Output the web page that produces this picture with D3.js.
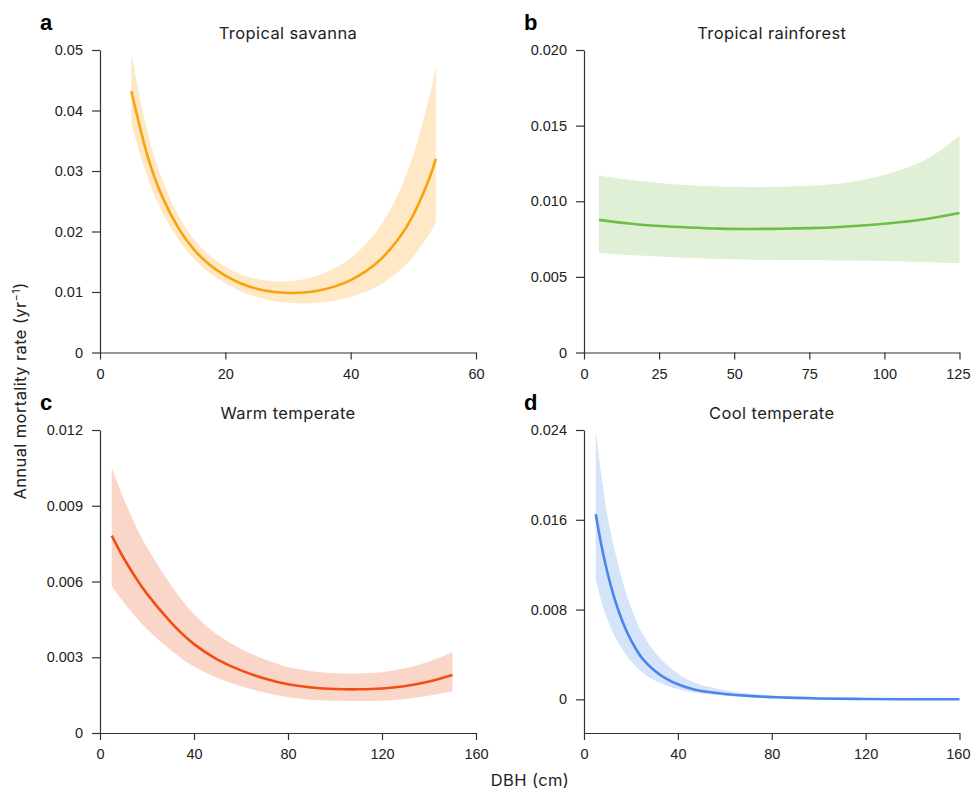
<!DOCTYPE html>
<html>
<head>
<meta charset="utf-8">
<script src="https://cdn.jsdelivr.net/npm/d3@7"></script>
<style>
  html, body { margin: 0; padding: 0; background: #fff; }
  svg { display: block; font-family: "Inter", "Noto Sans", sans-serif; }
  .tick text { font-size: 14.5px; fill: #222; }
  .domain, .tick line { stroke: #333; stroke-width: 1.2; }
</style>
</head>
<body>
<svg id="chart" width="971" height="789"></svg>
<script>
// ---- Tropical savanna ----
const savannaDbh   = [5, 7.5, 10, 12.5, 15, 17.5, 20, 22.5, 25, 27.5, 30, 32.5, 35, 37.5, 40, 42.5, 45, 47.5, 50, 52.5, 53.6];
const savannaMean  = [0.0432, 0.0328, 0.0256, 0.0206, 0.0170, 0.0145, 0.0127, 0.0114, 0.01055, 0.01005, 0.00984, 0.00991, 0.01026, 0.01093, 0.01197, 0.01348, 0.01561, 0.01859, 0.02276, 0.02864, 0.0320];
const savannaUpper = [0.04935, 0.03688, 0.02843, 0.02270, 0.01870, 0.01602, 0.01417, 0.01289, 0.01214, 0.01178, 0.01177, 0.01211, 0.01281, 0.01395, 0.01563, 0.01801, 0.02135, 0.02603, 0.03263, 0.04204, 0.04747];
const savannaLower = [0.03782, 0.02917, 0.02305, 0.01869, 0.01545, 0.01313, 0.01139, 0.01008, 0.00917, 0.00857, 0.00823, 0.00811, 0.00822, 0.00856, 0.00917, 0.01009, 0.01141, 0.01328, 0.01588, 0.01951, 0.02157];

// ---- Tropical rainforest ----
const rainDbh   = [5, 15, 25, 35, 45, 55, 65, 75, 85, 95, 105, 115, 125];
const rainMean  = [0.00877, 0.00853, 0.00836, 0.00826, 0.00819, 0.00817, 0.00818, 0.00822, 0.00830, 0.00843, 0.00861, 0.00886, 0.00922];
const rainUpper = [0.01170, 0.01142, 0.01120, 0.01105, 0.01098, 0.01095, 0.01096, 0.01102, 0.01118, 0.01150, 0.01205, 0.01290, 0.01432];
const rainLower = [0.00658, 0.00645, 0.00634, 0.00625, 0.00618, 0.00614, 0.00612, 0.00611, 0.00609, 0.00606, 0.00601, 0.00596, 0.00590];

// ---- Warm temperate ----
const warmDbh   = [5, 10, 15, 20, 30, 40, 50, 60, 70, 80, 90, 100, 110, 120, 130, 140, 150];
const warmMean  = [0.00782, 0.00694, 0.00618, 0.00551, 0.00440, 0.00352, 0.00291, 0.00248, 0.00216, 0.00193, 0.00180, 0.00174, 0.00173, 0.00176, 0.00186, 0.00204, 0.00230];
const warmUpper = [0.01050, 0.00930, 0.00826, 0.00736, 0.00589, 0.00470, 0.00389, 0.00333, 0.00292, 0.00261, 0.00245, 0.00237, 0.00236, 0.00241, 0.00256, 0.00283, 0.00320];
const warmLower = [0.00582, 0.00518, 0.00462, 0.00412, 0.00329, 0.00263, 0.00218, 0.00185, 0.00160, 0.00142, 0.00132, 0.00128, 0.00127, 0.00128, 0.00135, 0.00148, 0.00165];

// ---- Cool temperate ----
const coolDbh   = [5, 7.5, 10, 12.5, 15, 17.5, 20, 22.5, 25, 30, 35, 40, 45, 50, 60, 70, 80, 90, 100, 120, 140, 160];
const coolMean  = [0.0165, 0.01364, 0.01128, 0.00933, 0.00772, 0.00638, 0.00528, 0.00436, 0.00361, 0.00257, 0.00185, 0.00134, 0.00098, 0.00075, 0.00048, 0.00031, 0.00020, 0.00013, 0.00008, 0.00003, 0.00001, 0.000004];
const coolUpper = [0.0240, 0.01978, 0.01636, 0.01381, 0.01166, 0.00976, 0.00818, 0.00689, 0.00581, 0.00427, 0.00313, 0.00228, 0.00167, 0.00128, 0.00082, 0.00053, 0.00034, 0.00022, 0.00014, 0.00005, 0.00002, 0.000007];
const coolLower = [0.0107, 0.00866, 0.00711, 0.00588, 0.00490, 0.00408, 0.00341, 0.00283, 0.00236, 0.00170, 0.00124, 0.00091, 0.00067, 0.00051, 0.00033, 0.00021, 0.00014, 0.00009, 0.00005, 0.00002, 0.00001, 0.000003];

// ---- Axis ticks and labels ----
const savannaXTicks = [0, 20, 40, 60];
const savannaYTicks = [0, 0.01, 0.02, 0.03, 0.04, 0.05];
const savannaYLabels = ["0", "0.01", "0.02", "0.03", "0.04", "0.05"];
const rainXTicks = [0, 25, 50, 75, 100, 125];
const rainYTicks = [0, 0.005, 0.010, 0.015, 0.020];
const rainYLabels = ["0", "0.005", "0.010", "0.015", "0.020"];
const warmXTicks = [0, 40, 80, 120, 160];
const warmYTicks = [0, 0.003, 0.006, 0.009, 0.012];
const warmYLabels = ["0", "0.003", "0.006", "0.009", "0.012"];
const coolXTicks = [0, 40, 80, 120, 160];
const coolYTicks = [0, 0.008, 0.016, 0.024];
const coolYLabels = ["0", "0.008", "0.016", "0.024"];

const panels = [
  { letter: "a", title: "Tropical savanna", dbh: savannaDbh, mean: savannaMean, lo: savannaLower, hi: savannaUpper,
    xDomain: [0, 60], yDomain: [0, 0.05], xTicks: savannaXTicks, yTicks: savannaYTicks, yLabels: savannaYLabels,
    left: 100, right: 476, top: 50, bottom: 352.5, line: "#F9A20E", band: "#FEE8C6" },
  { letter: "b", title: "Tropical rainforest", dbh: rainDbh, mean: rainMean, lo: rainLower, hi: rainUpper,
    xDomain: [0, 125], yDomain: [0, 0.020], xTicks: rainXTicks, yTicks: rainYTicks, yLabels: rainYLabels,
    left: 584, right: 959.5, top: 50, bottom: 352.5, line: "#6ABF47", band: "#E0F0D6" },
  { letter: "c", title: "Warm temperate", dbh: warmDbh, mean: warmMean, lo: warmLower, hi: warmUpper,
    xDomain: [0, 160], yDomain: [0, 0.012], xTicks: warmXTicks, yTicks: warmYTicks, yLabels: warmYLabels,
    left: 100, right: 476, top: 430, bottom: 733, line: "#F04E13", band: "#FAD6C9" },
  { letter: "d", title: "Cool temperate", dbh: coolDbh, mean: coolMean, lo: coolLower, hi: coolUpper,
    xDomain: [0, 160], yDomain: [-0.003, 0.024], xTicks: coolXTicks, yTicks: coolYTicks, yLabels: coolYLabels,
    left: 584, right: 959.5, top: 430, bottom: 733, line: "#4A86EA", band: "#D6E4FA" }
];

const svg = d3.select("#chart");
const svgWidth = +svg.attr("width");

panels.forEach(p => {
  const x = d3.scaleLinear().domain(p.xDomain).range([p.left, p.right]);
  const y = d3.scaleLinear().domain(p.yDomain).range([p.bottom, p.top]);
  const g = svg.append("g");
  const rows = p.dbh.map((d, i) => ({ d, m: p.mean[i], lo: p.lo[i], hi: p.hi[i] }));

  // confidence band
  g.append("path")
    .datum(rows)
    .attr("fill", p.band)
    .attr("d", d3.area().curve(d3.curveNatural)
      .x(r => x(r.d)).y0(r => y(r.lo)).y1(r => y(r.hi)));

  // fitted mortality curve
  g.append("path")
    .datum(rows)
    .attr("fill", "none")
    .attr("stroke", p.line)
    .attr("stroke-width", 2.6)
    .attr("d", d3.line().curve(d3.curveNatural).x(r => x(r.d)).y(r => y(r.m)));

  // axes
  const xAxis = g.append("g")
    .attr("transform", `translate(0,${p.bottom})`)
    .call(d3.axisBottom(x).tickValues(p.xTicks).tickSize(7).tickPadding(9).tickSizeOuter(0));
  g.append("g")
    .attr("transform", `translate(${p.left},0)`)
    .call(d3.axisLeft(y).tickValues(p.yTicks).tickSize(8).tickPadding(9).tickSizeOuter(0)
      .tickFormat((v, i) => p.yLabels[i]));

  // keep the outermost tick label inside the page
  xAxis.selectAll(".tick text").each(function () {
    const b = this.getBBox();
    const tx = x(d3.select(this.parentNode).datum());
    const overflow = tx + b.x + b.width - (svgWidth - 1);
    if (overflow > 0) d3.select(this).attr("dx", -overflow);
  });

  // panel title and letter
  svg.append("text")
    .attr("x", (p.left + p.right) / 2)
    .attr("y", p.top - 11)
    .attr("text-anchor", "middle")
    .attr("font-size", 16.5)
    .attr("letter-spacing", 0.4)
    .attr("fill", "#222")
    .text(p.title);
  svg.append("text")
    .attr("x", p.left - 60)
    .attr("y", p.top - 20)
    .attr("font-family", "'Liberation Sans', Arial, sans-serif")
    .attr("font-weight", "bold")
    .attr("font-size", 22)
    .attr("fill", "#000")
    .text(p.letter);
});

// shared axis titles
const yTitle = svg.append("text")
  .attr("transform", "translate(26,391) rotate(-90)")
  .attr("text-anchor", "middle")
  .attr("font-size", 16.5)
  .attr("letter-spacing", 0.4)
  .attr("fill", "#222");
yTitle.append("tspan").text("Annual mortality rate (yr");
yTitle.append("tspan").attr("font-size", 11).attr("dy", -6).text("\u22121");
yTitle.append("tspan").attr("dy", 6).text(")");

svg.append("text")
  .attr("x", 530)
  .attr("y", 786)
  .attr("text-anchor", "middle")
  .attr("font-size", 16.5)
  .attr("letter-spacing", 0.4)
  .attr("fill", "#222")
  .text("DBH (cm)");
</script>
</body>
</html>
